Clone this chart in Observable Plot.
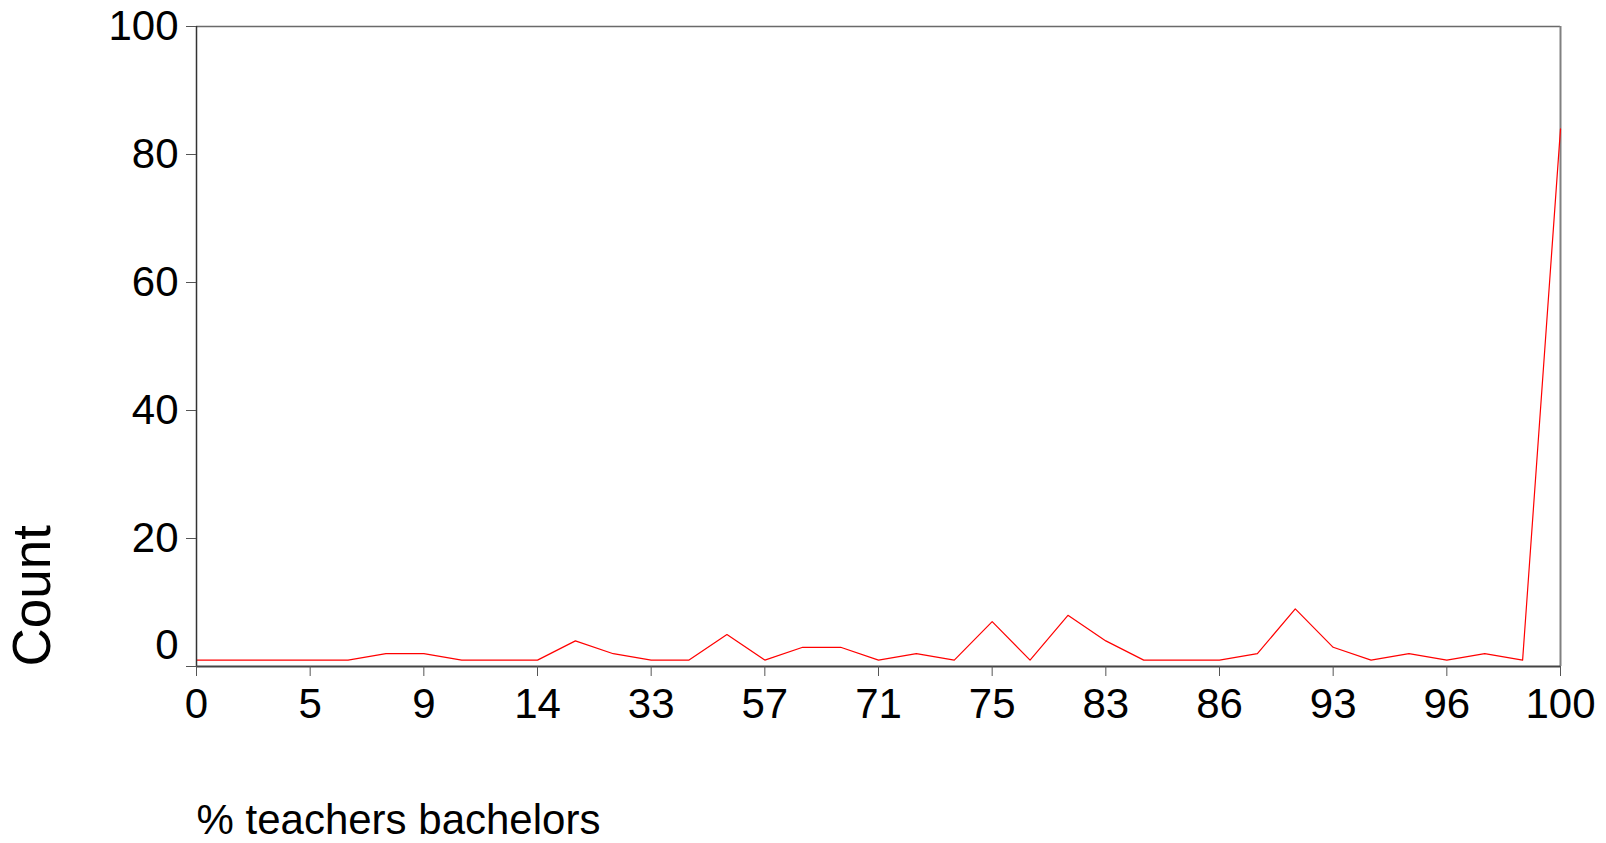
<!DOCTYPE html>
<html>
<head>
<meta charset="utf-8">
<script src="https://cdn.jsdelivr.net/npm/d3@7"></script>
<script src="https://cdn.jsdelivr.net/npm/@observablehq/plot@0.6"></script>
<style>
  html, body { margin: 0; padding: 0; background: #fff; }
  #chart { width: 1606px; height: 843px; }
</style>
</head>
<body>
<div id="chart"></div>
<script>
// Categories (% teachers bachelors); only every third one is labelled in the original
const categories = ["0","1","3","5","6","8","9","11","13","14","20","25","33","40","50","57","63","67","71","72","73","75","78","80","83","84","85","86","88","90","93","94","95","96","97","98","100"];
const counts = [1,1,1,1,1,2,2,1,1,1,4,2,1,1,5,1,3,3,1,2,1,7,1,8,4,1,1,1,2,9,3,1,2,1,2,1,84];
const xTickLabels = ["0","5","9","14","33","57","71","75","83","86","93","96","100"];
const yTicks = [0,20,40,60,80,100];
const xTitle = "% teachers bachelors";
const yTitle = "Count";

const data = categories.map((c, i) => ({cat: c, count: counts[i]}));
const font = "'Liberation Sans', Arial, sans-serif";

const chart = Plot.plot({
  width: 1606,
  height: 843,
  marginLeft: 196,
  marginRight: 46,
  marginTop: 26,
  marginBottom: 177,
  style: {fontFamily: font, background: "#fff", color: "#000"},
  x: {type: "point", domain: categories, padding: 0},
  y: {domain: [0, 100]},
  marks: [
    Plot.ruleY([100], {stroke: "#6a6a6a", strokeWidth: 1.5}),
    Plot.ruleX([categories[categories.length - 1]], {stroke: "#808080", strokeWidth: 2}),
    Plot.lineY(data, {x: "cat", y: "count", stroke: "#ff0000", strokeWidth: 1.2}),
    Plot.ruleX([categories[0]], {stroke: "#333", strokeWidth: 1.5}),
    Plot.ruleY([0], {stroke: "#444", strokeWidth: 2}),
    Plot.axisY(yTicks, {
      tickSize: 10, tickPadding: 8, fontSize: 42, stroke: "#555",
      tickFormat: d => d === 0 ? "" : String(d), label: null
    }),
    Plot.axisY([0], {tickSize: 0, tickPadding: 18, fontSize: 42, dy: -21, label: null}),
    Plot.axisX(xTickLabels, {
      tickSize: 10, tickPadding: 12, fontSize: 42, stroke: "#555", label: null
    }),
    Plot.text([xTitle], {frameAnchor: "bottom-left", textAnchor: "start", dy: 167, fontSize: 42, fill: "#000"}),
    Plot.text([yTitle], {frameAnchor: "bottom-left", textAnchor: "start", rotate: -90, dx: -147, fontSize: 53, fill: "#000"})
  ]
});
document.getElementById("chart").appendChild(chart);
</script>
</body>
</html>
